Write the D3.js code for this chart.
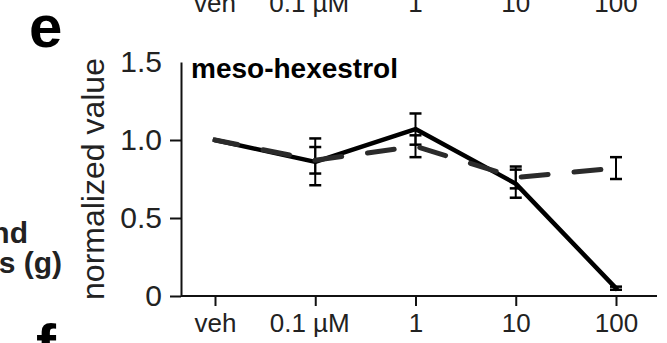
<!DOCTYPE html>
<html>
<head>
<meta charset="utf-8">
<script src="https://cdn.jsdelivr.net/npm/d3@7/dist/d3.min.js"></script>
<style>
  html, body { margin: 0; padding: 0; background: #fff; }
  svg { display: block; font-family: "Liberation Sans", Arial, Helvetica, sans-serif; }
</style>
</head>
<body>
<svg id="chart" width="667" height="343"></svg>
<script>
// ---- data ----
const categories = ["veh", "0.1 µM", "1", "10", "100"];
const solidMean = [1.00, 0.86, 1.07, 0.72, 0.05];
const solidErr  = [0, 0.15, 0.10, 0.09, 0.01];
const dashedMean = [1.00, 0.87, 0.96, 0.76, 0.82];
const dashedErr  = [0, 0.085, 0.07, 0.07, 0.07];
const yTicks = [0, 0.5, 1.0, 1.5];
const yTickLabels = ["0", "0.5", "1.0", "1.5"];
const chartTitle = "meso-hexestrol";
const yTitle = "normalized value";
const panelLabels = ["e", "f"];
const neighbourText = ["nd", "s (g)"];

// ---- layout ----
const svg = d3.select("#chart");
const x = d3.scalePoint().domain(categories).range([215, 616]);
const y = d3.scaleLinear().domain([0, 1.5]).range([296, 62]);
const axisLeftX = 181, axisRightX = 657;
const ink = "#111";

// neighbouring panel's x labels (cut at top, as in the source figure)
const topAxis = svg.append("g").attr("transform", "translate(0,-284)");
topAxis.selectAll("text").data(categories).join("text")
  .attr("x", (d, i) => x(d) + (i === 1 ? -6 : 0)).attr("y", 296)
  .attr("text-anchor", "middle").attr("font-size", 26).attr("fill", "#222")
  .text(d => d);

// panel letters
svg.append("text").attr("x", 29).attr("y", 47).attr("font-size", 60)
  .attr("font-weight", "bold").attr("fill", "#000").text(panelLabels[0]);
svg.append("text").attr("x", 36).attr("y", 366).attr("font-size", 60)
  .attr("font-weight", "bold").attr("fill", "#000").text(panelLabels[1]);

// neighbour panel's axis label fragments
svg.append("text").attr("x", 28).attr("y", 243).attr("text-anchor", "end")
  .attr("font-size", 30).attr("font-weight", "bold").attr("fill", "#222").text(neighbourText[0]);
svg.append("text").attr("x", 62).attr("y", 273).attr("text-anchor", "end")
  .attr("font-size", 30).attr("font-weight", "bold").attr("fill", "#222").text(neighbourText[1]);

// y axis
const yAxis = d3.axisLeft(y).tickValues(yTicks)
  .tickFormat((d, i) => yTickLabels[i]).tickSize(11).tickSizeOuter(0).tickPadding(8);
const gy = svg.append("g").attr("transform", `translate(${axisLeftX},0)`).call(yAxis);
gy.select(".domain").attr("stroke", ink).attr("stroke-width", 2);
gy.selectAll(".tick line").attr("stroke", ink).attr("stroke-width", 2)
  .attr("x2", d => d === 1.5 ? 0 : -11);
gy.selectAll(".tick text").attr("font-size", 30).attr("fill", "#222")
  .attr("font-family", "Liberation Sans, Arial, sans-serif");

// x axis
svg.append("line").attr("x1", axisLeftX).attr("x2", axisRightX)
  .attr("y1", y(0)).attr("y2", y(0)).attr("stroke", ink).attr("stroke-width", 2);
const xAxis = d3.axisBottom(x).tickSize(10).tickSizeOuter(0).tickPadding(8);
const gx = svg.append("g").attr("transform", `translate(0,${y(0)})`).call(xAxis);
gx.select(".domain").remove();
gx.selectAll(".tick line").attr("stroke", ink).attr("stroke-width", 2);
gx.selectAll(".tick text").attr("font-size", 26).attr("fill", "#222")
  .attr("font-family", "Liberation Sans, Arial, sans-serif")
  .attr("dx", (d, i) => i === 1 ? -6 : 0);

// y title
svg.append("text").attr("transform", `translate(104,${(y(0) + y(1.5)) / 2 + 0}) rotate(-90)`)
  .attr("text-anchor", "middle").attr("font-size", 32).attr("fill", "#222").text(yTitle);

// chart title
svg.append("text").attr("x", 191).attr("y", 78).attr("font-size", 28)
  .attr("font-weight", "bold").attr("fill", "#000").text(chartTitle);

// series
const solidData = categories.map((c, i) => ({ c, v: solidMean[i], e: solidErr[i] }));
const dashedData = categories.map((c, i) => ({ c, v: dashedMean[i], e: dashedErr[i] }));
const line = d3.line().x(d => x(d.c)).y(d => y(d.v));

function errorBars(data, cls) {
  const g = svg.append("g").attr("class", cls);
  const eb = data.filter(d => d.e > 0);
  g.selectAll("line.v").data(eb).join("line").attr("class", "v")
    .attr("x1", d => x(d.c)).attr("x2", d => x(d.c))
    .attr("y1", d => y(d.v - d.e)).attr("y2", d => y(d.v + d.e))
    .attr("stroke", "#000").attr("stroke-width", 2);
  ["+", "-"].forEach(s => {
    g.selectAll("line.c" + (s === "+" ? "p" : "m")).data(eb).join("line")
      .attr("class", "c" + (s === "+" ? "p" : "m"))
      .attr("x1", d => x(d.c) - 6).attr("x2", d => x(d.c) + 6)
      .attr("y1", d => y(s === "+" ? d.v + d.e : d.v - d.e))
      .attr("y2", d => y(s === "+" ? d.v + d.e : d.v - d.e))
      .attr("stroke", "#000").attr("stroke-width", 2.5);
  });
}

errorBars(solidData, "err-solid");
errorBars(dashedData, "err-dashed");

svg.append("path").datum(solidData).attr("d", line)
  .attr("fill", "none").attr("stroke", "#000").attr("stroke-width", 4.5)
  .attr("stroke-linejoin", "round").attr("stroke-linecap", "square");

svg.append("path").datum(dashedData).attr("d", line)
  .attr("fill", "none").attr("stroke", "#2b2b2b").attr("stroke-width", 5)
  .attr("stroke-dasharray", "27,26").attr("stroke-dashoffset", 4)
  .attr("stroke-linecap", "round");
</script>
</body>
</html>
